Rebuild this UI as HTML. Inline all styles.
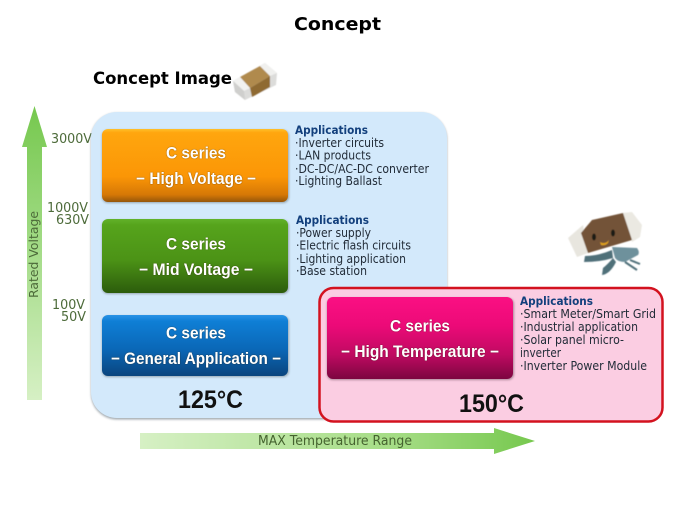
<!DOCTYPE html>
<html>
<head>
<meta charset="utf-8">
<style>
html,body{margin:0;padding:0;background:#fff;width:675px;height:506px;overflow:hidden}
svg{display:block}
.v{font:13.5px "DejaVu Sans",sans-serif;fill:#4d6b3a}
.h{font:bold 11.5px "DejaVu Sans",sans-serif;fill:#123f7c}
.a{font:12px "DejaVu Sans",sans-serif;fill:#222c38}
.w{font:bold 16.5px "Liberation Sans",sans-serif;fill:#fff;text-anchor:middle;filter:drop-shadow(.6px .8px .5px rgba(50,30,0,.75))}
.t{font:bold 25px "Liberation Sans",sans-serif;fill:#111}
</style>
</head>
<body>
<svg width="675" height="506" viewBox="0 0 675 506" xmlns="http://www.w3.org/2000/svg">
<defs>
<linearGradient id="or" x1="0" y1="0" x2="0" y2="1"><stop offset="0" stop-color="#ffc02a"/><stop offset=".05" stop-color="#ffa60e"/><stop offset=".65" stop-color="#fb9606"/><stop offset=".9" stop-color="#d67806"/><stop offset="1" stop-color="#95560a"/></linearGradient>
<linearGradient id="gr" x1="0" y1="0" x2="0" y2="1"><stop offset="0" stop-color="#62b22a"/><stop offset=".08" stop-color="#56a41c"/><stop offset=".55" stop-color="#4c9316"/><stop offset="1" stop-color="#2c5c0c"/></linearGradient>
<linearGradient id="bl" x1="0" y1="0" x2="0" y2="1"><stop offset="0" stop-color="#2a93e6"/><stop offset=".1" stop-color="#0f7fd6"/><stop offset=".55" stop-color="#0a68b8"/><stop offset="1" stop-color="#0a457e"/></linearGradient>
<linearGradient id="pk" x1="0" y1="0" x2="0" y2="1"><stop offset="0" stop-color="#fb1083"/><stop offset=".35" stop-color="#ec0a78"/><stop offset=".7" stop-color="#c00a62"/><stop offset="1" stop-color="#7c0640"/></linearGradient>
<linearGradient id="up" x1="0" y1="0" x2="0" y2="1"><stop offset="0" stop-color="#76c84e"/><stop offset=".35" stop-color="#96d677"/><stop offset="1" stop-color="#d6f0c4"/></linearGradient>
<linearGradient id="rt" x1="0" y1="0" x2="1" y2="0"><stop offset="0" stop-color="#d6f0c4"/><stop offset=".65" stop-color="#a4dc84"/><stop offset="1" stop-color="#76c84e"/></linearGradient>
<filter id="sh" x="-5%" y="-5%" width="110%" height="110%"><feGaussianBlur stdDeviation="1"/></filter>
<filter id="soft" x="-5%" y="-5%" width="110%" height="110%"><feGaussianBlur stdDeviation=".4"/></filter>
</defs>

<text x="337.5" y="30" text-anchor="middle" font-family="DejaVu Sans, sans-serif" font-weight="bold" font-size="18" fill="#000" textLength="87" lengthAdjust="spacingAndGlyphs">Concept</text>
<text x="93" y="84" font-family="DejaVu Sans, sans-serif" font-weight="bold" font-size="16.5" fill="#000" textLength="139" lengthAdjust="spacingAndGlyphs">Concept Image</text>

<!-- chip -->
<g filter="url(#soft)">
<polygon points="233,81 265,63 277,73 276,85 245,100 235,92" fill="#dcdcda"/>
<polygon points="240,77 260,66 270,76 250,88" fill="#b08a4e"/>
<polygon points="250,88 270,76 270,87 252,97" fill="#8f6a32"/>
<polygon points="233,81 240,77 250,88 244,91" fill="#f2f2f0"/>
<polygon points="260,66 265,63 277,73 270,76" fill="#f0f0ee"/>
<polygon points="233,81 244,91 245,100 235,92" fill="#cfcfcd"/>
</g>

<!-- up arrow -->
<polygon points="34.5,106 47,147 42,147 42,400 27,400 27,147 22,147" fill="url(#up)"/>
<text transform="translate(38,298) rotate(-90)" font-family="DejaVu Sans, sans-serif" font-size="12.5" fill="#4d6b3a" textLength="87" lengthAdjust="spacingAndGlyphs">Rated Voltage</text>

<text class="v" x="51" y="143" textLength="41" lengthAdjust="spacingAndGlyphs">3000V</text>
<text class="v" x="47" y="212" textLength="41" lengthAdjust="spacingAndGlyphs">1000V</text>
<text class="v" x="56" y="224" textLength="33" lengthAdjust="spacingAndGlyphs">630V</text>
<text class="v" x="52" y="309" textLength="33" lengthAdjust="spacingAndGlyphs">100V</text>
<text class="v" x="61" y="321" textLength="25" lengthAdjust="spacingAndGlyphs">50V</text>

<!-- blue panel -->
<rect x="91" y="113" width="356" height="306.500" rx="26" fill="#8a949c" filter="url(#sh)" opacity=".8"/>
<rect x="91" y="112" width="356" height="306" rx="26" fill="#d3e9fb"/>

<!-- boxes -->
<rect x="102" y="130" width="187" height="73" rx="6" fill="#6d7a80" opacity=".6" filter="url(#sh)"/>
<rect x="102" y="129" width="186" height="73" rx="6" fill="url(#or)"/>
<rect x="102" y="220" width="187" height="74" rx="6" fill="#6d7a80" opacity=".6" filter="url(#sh)"/>
<rect x="102" y="219" width="186" height="74" rx="6" fill="url(#gr)"/>
<rect x="102" y="316" width="187" height="61" rx="6" fill="#6d7a80" opacity=".6" filter="url(#sh)"/>
<rect x="102" y="315" width="186" height="61" rx="6" fill="url(#bl)"/>

<text class="w" x="196" y="158.500" textLength="60" lengthAdjust="spacingAndGlyphs">C series</text>
<text class="w" x="196" y="184" textLength="120" lengthAdjust="spacingAndGlyphs">− High Voltage −</text>
<text class="w" x="196" y="249.500" textLength="60" lengthAdjust="spacingAndGlyphs">C series</text>
<text class="w" x="196" y="275" textLength="114" lengthAdjust="spacingAndGlyphs">− Mid Voltage −</text>
<text class="w" x="196" y="338.500" textLength="60" lengthAdjust="spacingAndGlyphs">C series</text>
<text class="w" x="196" y="364" textLength="170" lengthAdjust="spacingAndGlyphs">− General Application −</text>

<text class="t" x="178" y="408" textLength="65" lengthAdjust="spacingAndGlyphs">125°C</text>

<!-- applications 1 -->
<text class="h" x="295" y="134" textLength="73" lengthAdjust="spacingAndGlyphs">Applications</text>
<text class="a" x="295" y="147" textLength="89" lengthAdjust="spacingAndGlyphs">·Inverter circuits</text>
<text class="a" x="295" y="159.500" textLength="76" lengthAdjust="spacingAndGlyphs">·LAN products</text>
<text class="a" x="295" y="173" textLength="134" lengthAdjust="spacingAndGlyphs">·DC-DC/AC-DC converter</text>
<text class="a" x="295" y="185" textLength="87" lengthAdjust="spacingAndGlyphs">·Lighting Ballast</text>

<!-- applications 2 -->
<text class="h" x="296" y="224" textLength="73" lengthAdjust="spacingAndGlyphs">Applications</text>
<text class="a" x="296" y="237" textLength="75" lengthAdjust="spacingAndGlyphs">·Power supply</text>
<text class="a" x="296" y="249.500" textLength="115" lengthAdjust="spacingAndGlyphs">·Electric flash circuits</text>
<text class="a" x="296" y="263" textLength="110" lengthAdjust="spacingAndGlyphs">·Lighting application</text>
<text class="a" x="296" y="275" textLength="71" lengthAdjust="spacingAndGlyphs">·Base station</text>

<!-- red panel -->
<rect x="319.500" y="288" width="343" height="133.500" rx="14" fill="#fbcde2" stroke="#d3121f" stroke-width="2.500"/>
<rect x="327" y="298" width="187" height="82" rx="6" fill="#6d4a5a" opacity=".55" filter="url(#sh)"/>
<rect x="327" y="297" width="186" height="82" rx="6" fill="url(#pk)"/>
<text class="w" x="420" y="331.500" textLength="60" lengthAdjust="spacingAndGlyphs">C series</text>
<text class="w" x="420" y="357" textLength="158" lengthAdjust="spacingAndGlyphs">− High Temperature −</text>
<text class="t" x="459" y="412" textLength="65" lengthAdjust="spacingAndGlyphs">150°C</text>

<text class="h" x="520" y="305" textLength="73" lengthAdjust="spacingAndGlyphs">Applications</text>
<text class="a" x="520" y="318" textLength="136" lengthAdjust="spacingAndGlyphs">·Smart Meter/Smart Grid</text>
<text class="a" x="520" y="331" textLength="118" lengthAdjust="spacingAndGlyphs">·Industrial application</text>
<text class="a" x="520" y="344" textLength="104" lengthAdjust="spacingAndGlyphs">·Solar panel micro-</text>
<text class="a" x="520" y="357" textLength="41" lengthAdjust="spacingAndGlyphs">inverter</text>
<text class="a" x="520" y="370" textLength="127" lengthAdjust="spacingAndGlyphs">·Inverter Power Module</text>

<!-- right arrow -->
<polygon points="140,433 494,433 494,428 535,441 494,454 494,449 140,449" fill="url(#rt)"/>
<text x="258" y="445" font-family="DejaVu Sans, sans-serif" font-size="13" fill="#45632f" textLength="154" lengthAdjust="spacingAndGlyphs">MAX Temperature Range</text>

<!-- mascot -->
<g filter="url(#soft)">
<polygon points="568,238 583,225 588,253 577,257" fill="#e8e6df"/>
<polygon points="622,213 632,212 642,225 640,237 632,242" fill="#ebe9e2"/>
<polygon points="581,233 592,220 623,213 632,240 588,253" fill="#735337"/>
<ellipse cx="594" cy="237" rx="2" ry="3.500" fill="#1e1a16"/>
<ellipse cx="613" cy="233" rx="2" ry="3.500" fill="#1e1a16"/>
<path d="M600 242 q5 3 9 -2 l-1 3 q-3 3 -7 2z" fill="#dfa01e"/>
<path d="M612 247 L637 248 Q640 252 638 255 L625 262 Q618 262 615 258Z" fill="#6e919c"/>
<path d="M612 250 Q598 256 585 256 L584 262 Q600 262 613 258Z" fill="#4f6f79"/>
<path d="M613 258 Q608 264 603 268 L602 275 Q610 274 616 262Z" fill="#4f6f79"/>
<path d="M630 260 L640 264 M625 262 L637 270" stroke="#4f6f79" stroke-width="2" fill="none"/>
</g>
</svg>
</body>
</html>
